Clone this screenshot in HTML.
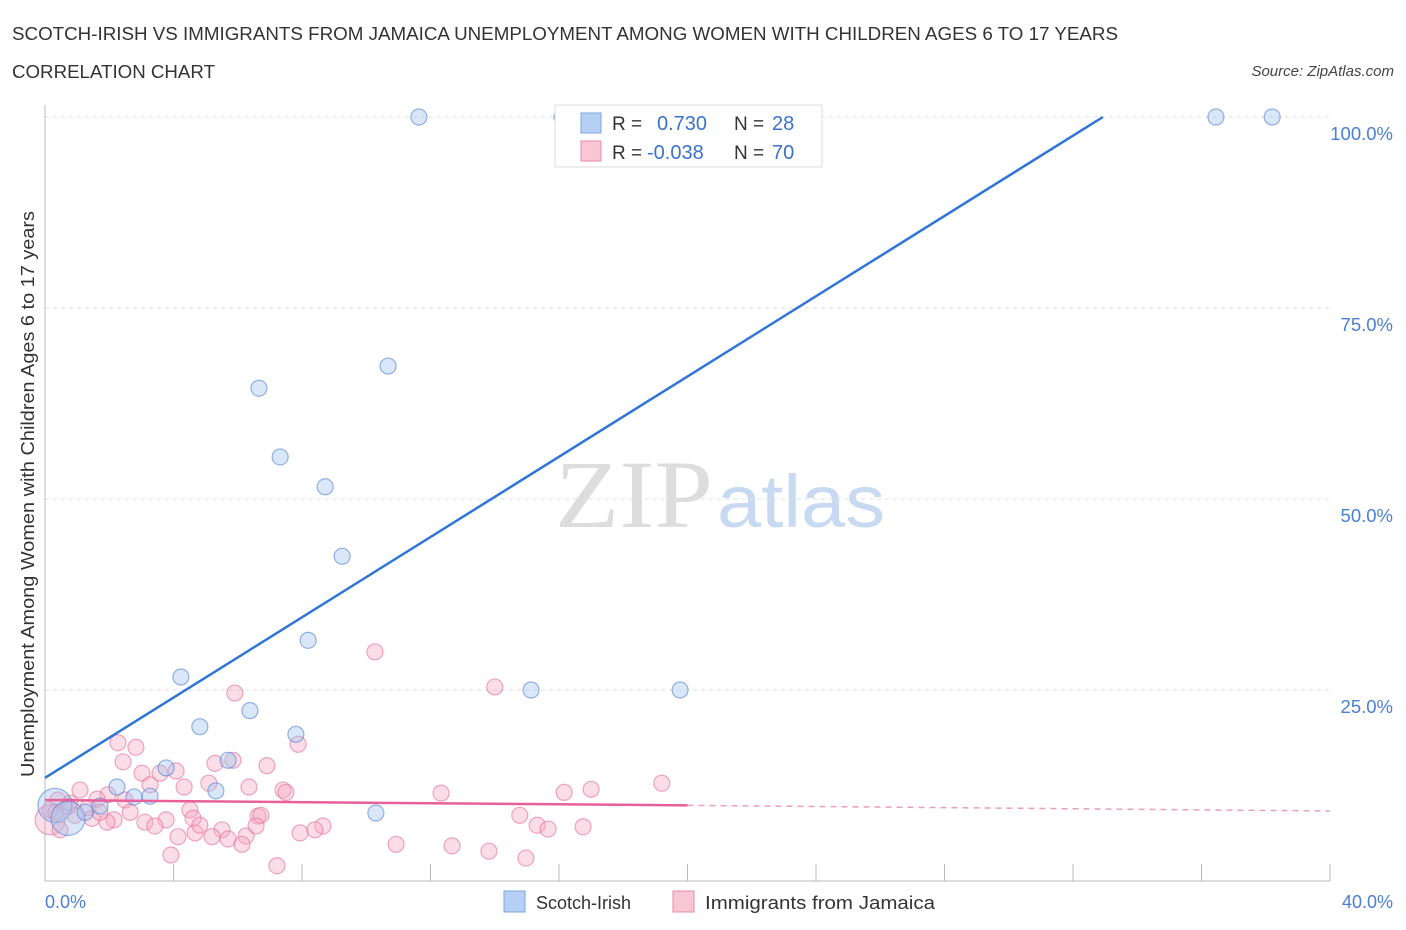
<!DOCTYPE html>
<html><head><meta charset="utf-8"><style>
body{margin:0;background:#fff;font-family:"Liberation Sans",sans-serif}
</style></head><body>
<svg id="chart" width="1406" height="930" xmlns="http://www.w3.org/2000/svg" style="display:block">
<text x="12" y="40" font-size="18" fill="#333" textLength="1106" lengthAdjust="spacingAndGlyphs">SCOTCH-IRISH VS IMMIGRANTS FROM JAMAICA UNEMPLOYMENT AMONG WOMEN WITH CHILDREN AGES 6 TO 17 YEARS</text>
<text x="12" y="78" font-size="18" fill="#333" textLength="203" lengthAdjust="spacingAndGlyphs">CORRELATION CHART</text>
<text x="1394" y="76" font-size="15" fill="#444" font-style="italic" text-anchor="end">Source: ZipAtlas.com</text>
<text x="555" y="527" font-size="96" fill="#ddd" font-family="Liberation Serif,serif" textLength="158" lengthAdjust="spacingAndGlyphs">ZIP</text>
<text x="717" y="527" font-size="74" fill="#c8daf2" textLength="168" lengthAdjust="spacingAndGlyphs">atlas</text>
<g id="grid"></g><g id="axes"></g><g id="pts"></g><g id="lines"></g>
<text transform="translate(34,494) rotate(-90)" font-size="18" fill="#333" text-anchor="middle" textLength="566" lengthAdjust="spacingAndGlyphs">Unemployment Among Women with Children Ages 6 to 17 years</text>
<text x="45" y="908" font-size="18" fill="#4a7fd4">0.0%</text>
<text x="1393" y="908" font-size="18" fill="#4a7fd4" text-anchor="end">40.0%</text>
<g>
<rect x="555" y="105" width="267" height="62" fill="#fff" stroke="#ddd"/>
<rect x="581" y="113" width="20" height="20" fill="#b6d0f5" stroke="#7aa7e0"/>
<rect x="581" y="141" width="20" height="20" fill="#f9c6d4" stroke="#e88aa8"/>
<text x="612" y="130" font-size="19" fill="#333">R =</text><text x="657" y="130" font-size="20" fill="#3a72cc">0.730</text>
<text x="734" y="130" font-size="19" fill="#333">N =</text><text x="772" y="130" font-size="20" fill="#3a72cc">28</text>
<text x="612" y="159" font-size="19" fill="#333">R =</text><text x="647" y="159" font-size="20" fill="#3a72cc">-0.038</text>
<text x="734" y="159" font-size="19" fill="#333">N =</text><text x="772" y="159" font-size="20" fill="#3a72cc">70</text>
</g>
<g>
<rect x="504" y="891" width="21" height="21" fill="#b6d0f5" stroke="#7aa7e0"/>
<text x="536" y="909" font-size="18" fill="#333">Scotch-Irish</text>
<rect x="673" y="891" width="21" height="21" fill="#f9c6d4" stroke="#e88aa8"/>
<text x="705" y="909" font-size="18" fill="#333" textLength="230" lengthAdjust="spacingAndGlyphs">Immigrants from Jamaica</text>
</g>
</svg>
<script>
const blueX=[11.64,16.09,17.09,36.45,38.2,10.68,6.66,7.32,8.72,9.25,8.19,4.23,15.13,19.77,6.38,4.82,7.81,5.70,3.77,2.24,3.27,2.77,5.32,1.71,10.30,0.31,0.72,1.25];
const blueY=[100,100,100,100,100,67.4,64.5,55.5,51.6,42.5,31.5,26.7,25,25,22.3,20.2,19.2,15.8,14.8,12.3,11.1,11.0,11.8,9.8,8.9,9.9,8.2,9.0];
const blueR=[8,8,8,8,8,8,8,8,8,8,8,8,8,8,8,8,8,8,8,8,8,8,8,8,8,17,17,8];
const pinkX=[10.27,14.0,5.91,2.27,2.83,7.88,2.43,5.29,5.85,6.91,3.02,4.08,3.58,19.2,5.10,4.33,6.35,17.0,7.41,7.5,16.16,12.33,1.09,1.96,1.62,2.49,3.27,0.4,0.78,0.16,0.16,1.34,2.15,1.93,4.51,4.61,3.11,3.77,3.42,6.63,6.72,14.78,15.32,15.66,16.75,8.65,8.4,7.94,4.67,4.14,5.51,5.2,5.7,6.26,6.13,6.57,10.93,12.67,13.82,14.97,3.92,7.22,0.47,1.46,1.71,2.65,0.34,0.93,0.72,4.82];
const pinkY=[30.0,25.4,24.6,18.1,17.5,17.9,15.6,15.4,15.8,15.1,14.1,14.4,14.1,12.8,12.8,12.3,12.3,12.0,11.9,11.6,11.6,11.5,11.9,11.3,10.7,10.6,12.6,10.6,10.2,8.0,9.3,9.6,8.0,7.7,9.3,8.2,7.7,8.0,7.2,8.5,8.6,8.6,7.3,6.8,7.1,7.2,6.7,6.3,6.3,5.8,6.7,5.8,5.5,5.9,4.8,7.2,4.8,4.6,3.9,3.0,3.4,2.0,6.7,8.2,9.0,9.0,9.0,8.6,9.8,7.3];
const blueLine=[[0,13.5],[32.93,100]];
const pinkSolid=[[0,10.6],[20,9.9]];
const pinkDash=[[20,9.9],[40,9.16]];
const yTicks=[25,50,75,100];
const yTickLabels=["25.0%","50.0%","75.0%","100.0%"];
const xTicks=[4,8,12,16,20,24,28,32,36,40];
const sx=v=>45+v*32.125, sy=v=>881-v*7.64;
const NS="http://www.w3.org/2000/svg";
function mk(p,t,a){const e=document.createElementNS(NS,t);for(const k in a)e.setAttribute(k,a[k]);document.getElementById(p).appendChild(e);return e;}
yTicks.forEach((v,i)=>{
 const l=mk('grid','line',{x1:45,x2:1330,y1:sy(v),y2:sy(v),stroke:'#ddd','stroke-dasharray':'4,4'});
 
 
 const t=mk('grid','text',{x:1393,y:sy(v)+23,'font-size':18.5,fill:'#4a7fd4','text-anchor':'end'});
 t.textContent=yTickLabels[i];
 
 
});
let a=mk('axes','line',{x1:45,x2:45,y1:105,y2:881,stroke:'#bbb'});


a=mk('axes','line',{x1:45,x2:1330,y1:881,y2:881,stroke:'#bbb'});


xTicks.forEach(v=>{const t=mk('axes','line',{x1:sx(v),x2:sx(v),y1:864,y2:881,stroke:'#bbb'});
 
 });
pinkX.forEach((v,i)=>{const c=mk('pts','circle',{cx:sx(v),cy:sy(pinkY[i]),r:(i==29?15:8),fill:'rgba(245,170,195,0.4)',stroke:'rgba(230,120,160,0.65)','stroke-width':1.2});
 
 });
blueX.forEach((v,i)=>{const c=mk('pts','circle',{cx:sx(v),cy:sy(blueY[i]),r:blueR[i],fill:'rgba(160,195,240,0.4)',stroke:'rgba(80,130,210,0.6)','stroke-width':1.2});
 
 });
let L=mk('lines','line',{x1:sx(blueLine[0][0]),y1:sy(blueLine[0][1]),x2:sx(blueLine[1][0]),y2:sy(blueLine[1][1]),stroke:'#2f76d6','stroke-width':2.5});


L=mk('lines','line',{x1:sx(pinkSolid[0][0]),y1:sy(pinkSolid[0][1]),x2:sx(pinkSolid[1][0]),y2:sy(pinkSolid[1][1]),stroke:'#e8609a','stroke-width':2.5});


L=mk('lines','line',{x1:sx(pinkDash[0][0]),y1:sy(pinkDash[0][1]),x2:sx(pinkDash[1][0]),y2:sy(pinkDash[1][1]),stroke:'#e8a0bc','stroke-width':1.5,'stroke-dasharray':'6,5'});


</script>
</body></html>
